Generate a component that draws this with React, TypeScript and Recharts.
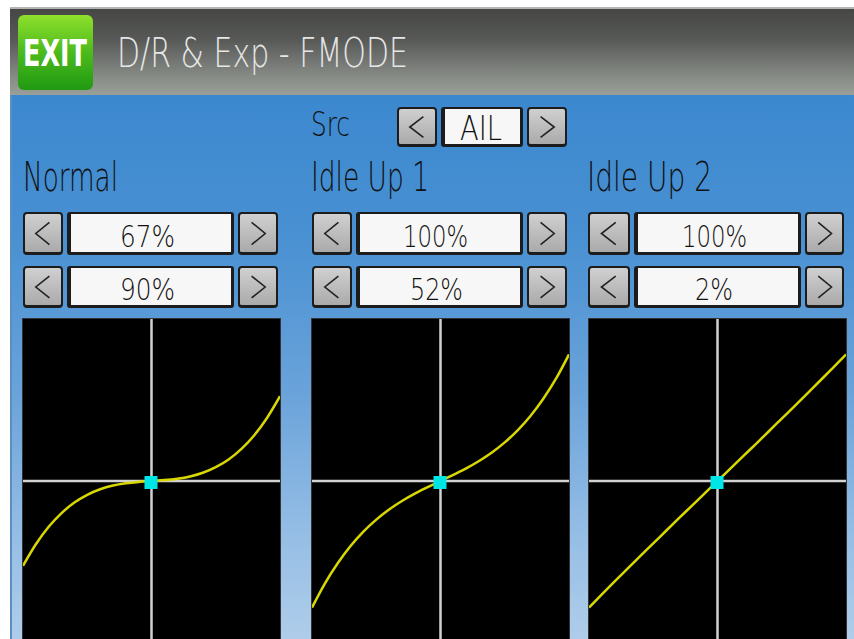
import React from 'react';
import { ComposedChart, Line, XAxis, YAxis, ReferenceLine, ReferenceDot } from 'recharts';

// stick input positions (%) shared by all three curves
const X_VALUES = [-100, -90, -80, -70, -60, -50, -40, -30, -20, -10, 0, 10, 20, 30, 40, 50, 60, 70, 80, 90, 100];

// output values (rate / expo shown above each graph)
const NORMAL_Y = [-67, -50, -36.2, -25.4, -17, -10.9, -6.5, -3.6, -1.8, -0.7, 0, 0.7, 1.8, 3.6, 6.5, 10.9, 17, 25.4, 36.2, 50, 67];
const IDLE1_Y = [-100, -81, -65, -51.4, -40, -30.5, -22.5, -15.8, -10, -4.9, 0, 4.9, 10, 15.8, 22.5, 30.5, 40, 51.4, 65, 81, 100];
const IDLE2_Y = [-100, -89.6, -79.4, -69.3, -59.2, -49.3, -39.3, -29.4, -19.6, -9.8, 0, 9.8, 19.6, 29.4, 39.3, 49.3, 59.2, 69.3, 79.4, 89.6, 100];

const PANEL_NAMES = ['Normal', 'Idle Up 1', 'Idle Up 2'];
const RATE_LABELS = ['67%', '100%', '100%'];
const EXPO_LABELS = ['90%', '52%', '2%'];

const FONT = '"DejaVu Sans", sans-serif';

const toRows = (ys: number[]) => X_VALUES.map((x, i) => ({ x, y: ys[i] }));

// text squeezed to the measured width, like the radio's narrow bitmap font
const Txt = ({ x, base, w, size, text, color = '#111', weight = 200 }: any) => (
  <svg style={{ position: 'absolute', left: x - 2, top: base - size, overflow: 'visible' }} width={w + 4} height={size * 1.3}>
    <text x={2} y={size} fontSize={size} fontFamily={FONT} fontWeight={weight} fill={color}
      textLength={w} lengthAdjust="spacingAndGlyphs">{text}</text>
  </svg>
);

const ArrowBox = ({ x, y, w, h, dir }: any) => {
  const pts = dir === 'l'
    ? `${w * 0.66},${h * 0.24} ${w * 0.32},${h * 0.5} ${w * 0.66},${h * 0.76}`
    : `${w * 0.34},${h * 0.24} ${w * 0.68},${h * 0.5} ${w * 0.34},${h * 0.76}`;
  return (
    <div style={{
      position: 'absolute', left: x, top: y, width: w, height: h, boxSizing: 'border-box',
      border: '2px solid #1c1c1c', borderBottomWidth: 3, borderRadius: 4,
      background: 'linear-gradient(#d0d0d0, #aaaaaa)',
    }}>
      <svg width={w} height={h} style={{ position: 'absolute', left: -2, top: -2 }}>
        <polyline points={pts} fill="none" stroke="#222" strokeWidth={1.6} />
      </svg>
    </div>
  );
};

const ValueBox = ({ x, y, w, h }: any) => (
  <div style={{
    position: 'absolute', left: x, top: y, width: w, height: h, boxSizing: 'border-box',
    border: '2px solid #1c1c1c', borderLeftWidth: 4, borderRightWidth: 3, borderBottomWidth: 3, borderRadius: 3,
    background: '#f7f7f7',
  }} />
);

const Spinner = ({ x1, x2, x3, x4, y, h }: any) => (
  <>
    <ArrowBox x={x1} y={y} w={x2 - x1} h={h} dir="l" />
    <ValueBox x={x2 + 4} y={y} w={x3 - x2 - 8} h={h} />
    <ArrowBox x={x3} y={y} w={x4 - x3} h={h} dir="r" />
  </>
);

const CurveChart = ({ left, ys }: any) => (
  <div style={{ position: 'absolute', left, top: 319, width: 257, height: 324, background: '#000', outline: '1px solid #333' }}>
    <ComposedChart width={257} height={324} data={toRows(ys)} margin={{ top: 0, right: 0, bottom: 0, left: 0 }}>
      <XAxis type="number" dataKey="x" domain={[-100, 100]} hide />
      <YAxis type="number" domain={[-128, 128]} hide />
      <ReferenceLine x={0} stroke="#d2d2d2" strokeWidth={2.5} />
      <ReferenceLine y={0} stroke="#d2d2d2" strokeWidth={2.5} />
      <Line type="monotone" dataKey="y" stroke="#d8d800" strokeWidth={2.5} dot={false} isAnimationActive={false} />
      <ReferenceDot x={0} y={0} r={6} shape={(p: any) => (
        <rect x={p.cx - 7} y={p.cy - 5} width={13} height={13} fill="#00e6e6" />
      )} />
    </ComposedChart>
  </div>
);

export default function App() {
  const cols = [
    { box: [23, 63, 238, 278], chart: 23, label: 23, lw: 95 },
    { box: [312, 352, 527, 567], chart: 312, label: 311, lw: 118 },
    { box: [588, 630, 805, 844], chart: 589, label: 587, lw: 125 },
  ];
  const rateText = [{ x: 120, w: 55 }, { x: 403, w: 65 }, { x: 682, w: 65 }];
  const expoText = [{ x: 120, w: 55 }, { x: 410, w: 53 }, { x: 695, w: 38 }];
  const series = [NORMAL_Y, IDLE1_Y, IDLE2_Y];

  return (
    <div style={{ position: 'fixed', left: 0, top: 0, width: 854, height: 639, overflow: 'hidden', background: '#fff' }}>
      {/* header */}
      <div style={{
        position: 'absolute', left: 10, top: 7, width: 844, height: 88,
        borderTop: '2px solid #b4b4b4',
        background: 'linear-gradient(#464745 0%, #575956 35%, #858984 75%, #9da19c 100%)',
      }} />
      <div style={{
        position: 'absolute', left: 18, top: 15, width: 75, height: 75, borderRadius: 6,
        background: 'linear-gradient(#8fe02c 0%, #4cba1c 50%, #1f9a12 100%)',
      }} />
      <Txt x={23} base={66} w={64} size={37} text="EXIT" color="#fff" weight="bold" />
      <Txt x={117} base={67} w={291} size={40} text="D/R & Exp - FMODE" color="#e6e6e6" />

      {/* body */}
      <div style={{
        position: 'absolute', left: 10, top: 95, width: 844, height: 544,
        borderLeft: '2px solid #5c8fc0',
        background: 'linear-gradient(#3c88cf 0%, #4890d2 25%, #6aa3da 55%, #94bde5 80%, #afcdea 100%)',
      }} />

      <Txt x={311} base={136} w={39} size={33} text="Src" />
      <Spinner x1={397} x2={437} x3={527} x4={567} y={107} h={40} />
      <Txt x={460} base={140} w={42} size={34} text="AIL" />

      {cols.map((c, i) => (
        <React.Fragment key={i}>
          <Txt x={c.label} base={191} w={c.lw} size={40} text={PANEL_NAMES[i]} />
          <Spinner x1={c.box[0]} x2={c.box[1]} x3={c.box[2]} x4={c.box[3]} y={212} h={43} />
          <Txt x={rateText[i].x} base={247} w={rateText[i].w} size={30} text={RATE_LABELS[i]} />
          <Spinner x1={c.box[0]} x2={c.box[1]} x3={c.box[2]} x4={c.box[3]} y={266} h={42} />
          <Txt x={expoText[i].x} base={300} w={expoText[i].w} size={30} text={EXPO_LABELS[i]} />
          <CurveChart left={c.chart} ys={series[i]} />
        </React.Fragment>
      ))}
    </div>
  );
}
